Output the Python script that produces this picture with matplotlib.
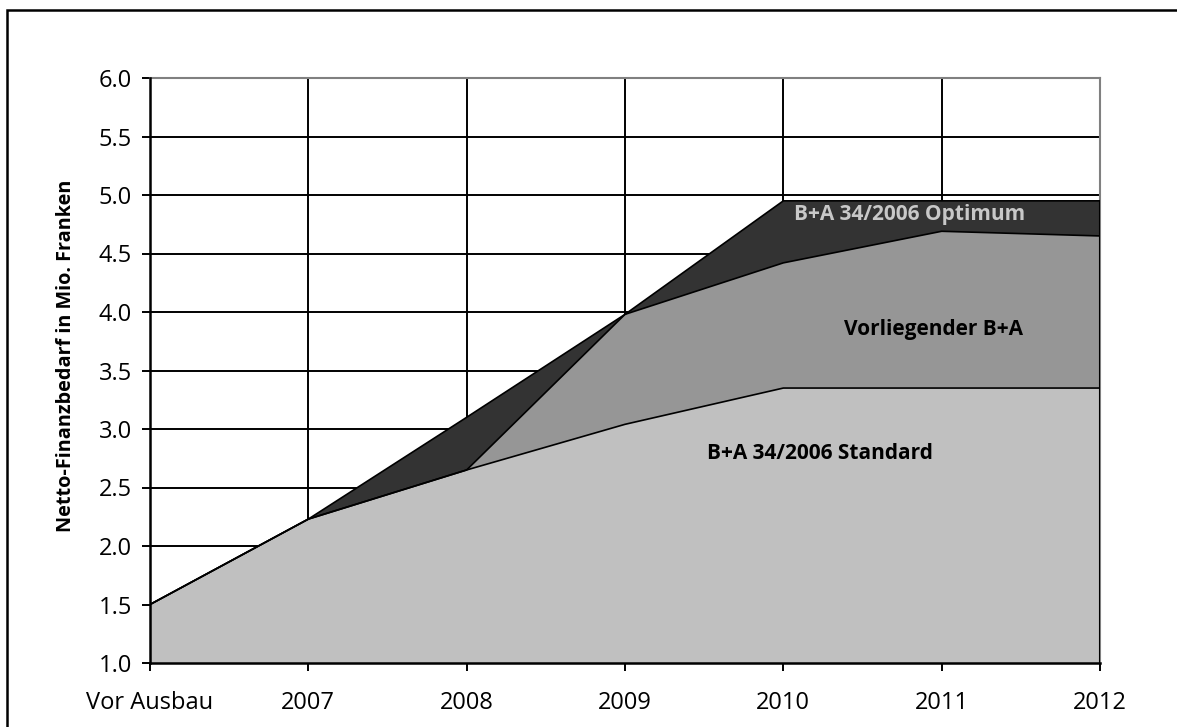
import matplotlib.pyplot as plt
from matplotlib.patches import Rectangle

plt.rcParams["font.family"] = ["Open Sans", "DejaVu Sans"]

categories = ["Vor Ausbau", "2007", "2008", "2009", "2010", "2011", "2012"]
optimum = [1.5, 2.23, 3.1, 3.98, 4.95, 4.95, 4.95]
vorliegend = [1.5, 2.23, 2.65, 3.98, 4.42, 4.69, 4.65]
standard = [1.5, 2.23, 2.65, 3.04, 3.35, 3.35, 3.35]

fig = plt.figure(figsize=(11.77, 7.27), dpi=100)
ax = fig.add_axes([150 / 1177, 1 - 663 / 727, 950 / 1177, 585 / 727])

x = list(range(len(categories)))
base = 1.0
# overlapping areas, largest first so the smaller ones sit on top
for vals, col in [(optimum, "#333333"), (vorliegend, "#969696"), (standard, "#c0c0c0")]:
    ax.fill_between(x, base, vals, facecolor=col, edgecolor="none", zorder=3)
    ax.plot(x, vals, color="black", lw=1.2, zorder=4)
ax.plot([x[-1], x[-1]], [base, optimum[-1]], color="black", lw=1.5, zorder=4)

ax.set_xlim(0, len(categories) - 1)
ax.set_ylim(1.0, 6.0)
ax.set_xticks(x)
ax.set_xticklabels(categories)
ax.set_yticks([1.0 + 0.5 * i for i in range(11)])
ax.set_yticklabels([f"{1.0 + 0.5 * i:.1f}" for i in range(11)])
ax.grid(True, color="black", lw=1.4, zorder=1)
ax.set_axisbelow(True)
ax.tick_params(axis="both", labelsize=17, length=6, width=1.4, direction="out", pad=7)
ax.tick_params(axis="x", pad=14)

for side in ["top", "right"]:
    ax.spines[side].set_color("#808080")
    ax.spines[side].set_linewidth(1.5)
for side in ["left", "bottom"]:
    ax.spines[side].set_color("black")
    ax.spines[side].set_linewidth(1.8)
    ax.spines[side].set_zorder(5)

ax.set_ylabel("Netto-Finanzbedarf in Mio. Franken", fontsize=14.3, fontweight="bold")
ax.yaxis.set_label_coords(-0.078, 0.525)

ax.text(4.8, 4.83, "B+A 34/2006 Optimum", fontsize=15, fontweight="bold",
        color="#c8c8c8", ha="center", va="center", zorder=6)
ax.text(4.95, 3.85, "Vorliegender B+A", fontsize=15, fontweight="bold",
        color="black", ha="center", va="center", zorder=6)
ax.text(4.23, 2.79, "B+A 34/2006 Standard", fontsize=15, fontweight="bold",
        color="black", ha="center", va="center", zorder=6)

# outer frame around the whole chart
fig.patches.append(Rectangle((7 / 1177, -0.05), 1.1, 1 - 10 / 727 + 0.05,
                             transform=fig.transFigure, fill=False,
                             edgecolor="black", lw=1.8))

fig.savefig("out.png", dpi=100)
